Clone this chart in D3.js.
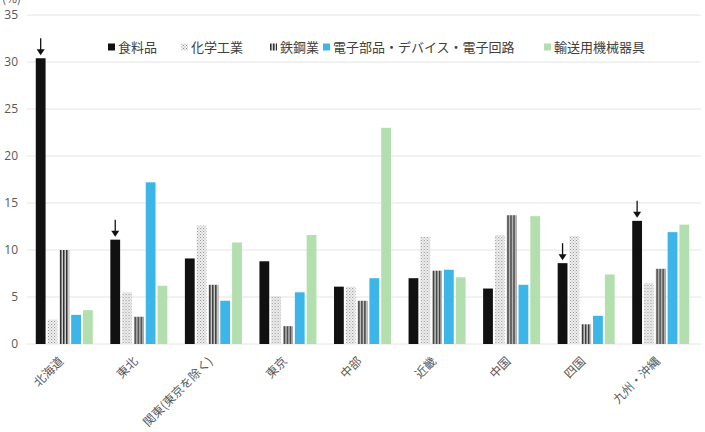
<!DOCTYPE html>
<html>
<head>
<meta charset="utf-8">
<script src="https://cdn.jsdelivr.net/npm/d3@7"></script>
<style>
  body { margin: 0; background: #fff; }
  svg { display: block; font-family: "Noto Sans CJK JP", "Noto Sans", sans-serif; }
</style>
</head>
<body>
<div id="chart"></div>
<script>
// regions and industries
const regions = ["北海道", "東北", "関東(東京を除く)", "東京", "中部", "近畿", "中国", "四国", "九州・沖縄"];
const series = ["食料品", "化学工業", "鉄鋼業", "電子部品・デバイス・電子回路", "輸送用機械器具"];

// share (%) per region, one array per industry
const food = [30.4, 11.1, 9.1, 8.8, 6.1, 7.0, 5.9, 8.6, 13.1];
const chem = [2.6, 5.5, 12.6, 5.1, 6.1, 11.4, 11.6, 11.5, 6.5];
const steel = [10.0, 2.9, 6.3, 1.9, 4.6, 7.8, 13.7, 2.1, 8.0];
const elec = [3.1, 17.2, 4.6, 5.5, 7.0, 7.9, 6.3, 3.0, 11.9];
const transport = [3.6, 6.2, 10.8, 11.6, 23.0, 7.1, 13.6, 7.4, 12.7];

const yTicks = [0, 5, 10, 15, 20, 25, 30, 35];
// regions whose 食料品 bar gets an arrow
const arrowRegions = ["北海道", "東北", "四国", "九州・沖縄"];

const values = [food, chem, steel, elec, transport];

const W = 705, H = 432;
const svg = d3.select("#chart").append("svg")
    .attr("width", W)
    .attr("height", H);

// patterns for chem / steel
const defs = svg.append("defs");
const pChem = defs.append("pattern")
    .attr("id", "pChem")
    .attr("patternUnits", "userSpaceOnUse")
    .attr("width", 3).attr("height", 3);
pChem.append("rect").attr("width", 3).attr("height", 3).attr("fill", "#f0f0f0");
pChem.append("rect").attr("x", 0).attr("y", 0).attr("width", 1).attr("height", 1).attr("fill", "#8f8f8f");
pChem.append("rect").attr("x", 1.5).attr("y", 1.5).attr("width", 1).attr("height", 1).attr("fill", "#aaaaaa");

const pSteel = defs.append("pattern")
    .attr("id", "pSteel")
    .attr("patternUnits", "userSpaceOnUse")
    .attr("width", 3).attr("height", 3);
pSteel.append("rect").attr("width", 3).attr("height", 3).attr("fill", "#d0d0d0");
pSteel.append("rect").attr("x", 0).attr("width", 1.5).attr("height", 3).attr("fill", "#333333");

const fills = ["#111111", "url(#pChem)", "url(#pSteel)", "#3cb6e8", "#b3dfae"];

const margin = { left: 27, right: 7, top: 15, bottom: 88 };

const x0 = d3.scaleBand()
    .domain(regions)
    .range([margin.left, W - margin.right]);

const groupW = 57;
const x1 = d3.scaleBand()
    .domain(series)
    .range([(x0.bandwidth() - groupW) / 2, (x0.bandwidth() + groupW) / 2])
    .paddingInner(0.17);

const y = d3.scaleLinear()
    .domain([0, 35])
    .range([H - margin.bottom, margin.top]);

// gridlines
svg.append("g")
    .selectAll("line")
    .data(yTicks)
    .enter()
    .append("line")
    .attr("x1", margin.left)
    .attr("x2", W - 4)
    .attr("y1", d => y(d))
    .attr("y2", d => y(d))
    .style("stroke", "#e4e4e4")
    .style("stroke-width", 1);

// y axis labels
const yAxis = d3.axisLeft(y).tickValues(yTicks).tickSize(0).tickPadding(9);
svg.append("g")
    .attr("transform", `translate(${margin.left}, 0)`)
    .call(yAxis)
    .call(g => g.select(".domain").remove())
    .selectAll("text")
    .style("font-family", "'Open Sans', 'Noto Sans', sans-serif")
    .style("font-size", "12px")
    .style("fill", "#595959");

// unit label, mostly cut off at top like the original
svg.append("text")
    .attr("x", 2)
    .attr("y", 3)
    .style("font-size", "12px")
    .style("fill", "#595959")
    .text("(%)");

// bars
const groups = svg.append("g")
    .selectAll("g")
    .data(regions)
    .enter()
    .append("g")
    .attr("transform", d => `translate(${x0(d)}, 0)`);

groups.selectAll("rect")
    .data((d, i) => series.map((s, j) => ({ s: s, v: values[j][i], j: j })))
    .enter()
    .append("rect")
    .attr("x", d => x1(d.s))
    .attr("y", d => y(d.v))
    .attr("width", x1.bandwidth())
    .attr("height", d => y(0) - y(d.v))
    .style("fill", d => fills[d.j]);

// arrows over 食料品
arrowRegions.forEach(r => {
    const i = regions.indexOf(r);
    const cx = x0(r) + x1(series[0]) + x1.bandwidth() / 2;
    const tip = y(food[i]) - 3;
    svg.append("line")
        .attr("x1", cx).attr("x2", cx)
        .attr("y1", tip - 17).attr("y2", tip - 5)
        .style("stroke", "#111")
        .style("stroke-width", 1.3);
    svg.append("path")
        .attr("d", `M${cx - 4},${tip - 6} L${cx + 4},${tip - 6} L${cx},${tip} Z`)
        .style("fill", "#111");
});

// x labels
svg.append("g")
    .selectAll("text")
    .data(regions)
    .enter()
    .append("text")
    .attr("transform", d => `translate(${x0(d) + x0.bandwidth() / 2}, ${y(0) + 18}) rotate(-45)`)
    .style("text-anchor", "end")
    .style("font-size", "12px")
    .style("fill", "#595959")
    .text(d => d);

// legend
const legendX = [108, 181, 270, 323, 544];
const legend = svg.append("g");
series.forEach((s, j) => {
    legend.append("rect")
        .attr("x", legendX[j])
        .attr("y", 43.5)
        .attr("width", 7)
        .attr("height", 7)
        .style("fill", fills[j]);
    legend.append("text")
        .attr("x", legendX[j] + 10)
        .attr("y", 51.5)
        .style("font-size", "13px")
        .style("fill", "#404040")
        .text(s);
});
</script>
</body>
</html>
